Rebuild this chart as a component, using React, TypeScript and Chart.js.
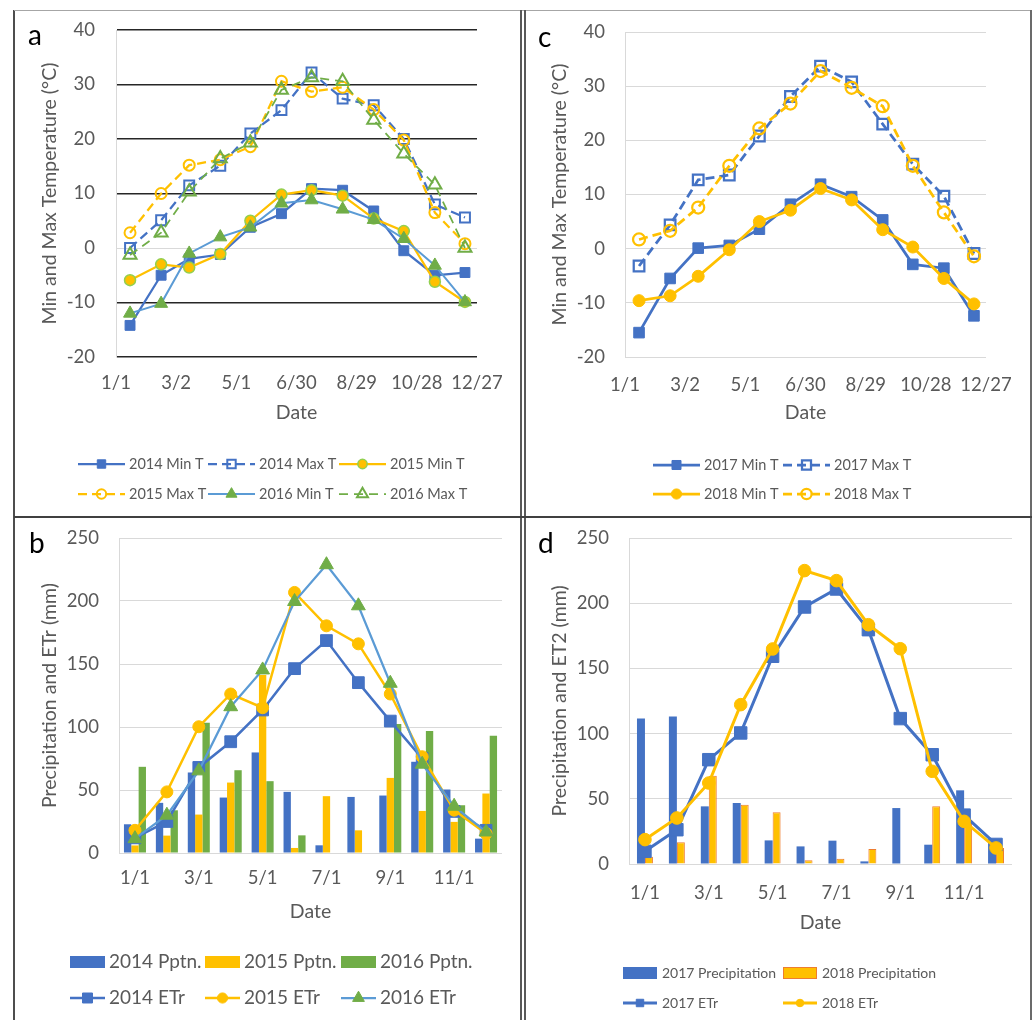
import React, { useEffect, useRef } from 'react';
import { Chart, registerables } from 'chart.js';
Chart.register(...registerables);

const FONT = 'Lato, "Open Sans", sans-serif';
const GRAY = '#595959';
const BLUE = '#4472C4';
const YELLOW = '#FFC000';
const GREEN = '#70AD47';
const LBLUE = '#5B9BD5';
const ORANGE = '#ED7D31';
const LIME = '#92D050';
const GRID = '#d9d9d9';
const CLEAR = 'rgba(255,255,255,0)';

// ---------- Temperature panels (a, c) ----------
const monthDays = [14, 45, 73, 104, 134, 165, 195, 226, 257, 287, 318, 348];
const tempTickDays = [0, 60, 120, 180, 240, 300, 360];
const tempTickLabels = ['1/1', '3/2', '5/1', '6/30', '8/29', '10/28', '12/27'];

const min2014 = [-14.2, -5.0, -2.0, -1.2, 3.8, 6.3, 10.9, 10.6, 6.8, -0.5, -5.0, -4.5];
const max2014 = [0.0, 5.1, 11.5, 15.1, 21.0, 25.3, 32.2, 27.4, 26.2, 20.0, 8.0, 5.6];
const min2015 = [-5.9, -3.0, -3.6, -1.1, 5.0, 9.8, 10.6, 9.6, 5.4, 3.1, -6.2, -9.9];
const max2015 = [2.8, 10.0, 15.2, 16.2, 18.6, 30.6, 28.7, 29.5, 25.4, 19.8, 6.5, 0.8];
const min2016 = [-12.0, -10.2, -1.0, 2.0, 3.8, 8.2, 8.8, 7.1, 5.2, 1.7, -3.2, -9.9];
const max2016 = [-1.3, 2.8, 10.3, 16.4, 19.3, 29.0, 31.3, 30.6, 23.5, 17.3, 11.6, 0.0];

const min2017 = [-15.5, -5.5, 0.1, 0.6, 3.6, 8.2, 11.9, 9.6, 5.3, -2.9, -3.6, -12.4];
const max2017 = [-3.2, 4.4, 12.7, 13.6, 20.8, 28.1, 33.7, 30.8, 23.0, 15.6, 9.7, -0.9];
const min2018 = [-9.6, -8.7, -5.1, -0.2, 5.0, 7.1, 11.1, 9.0, 3.5, 0.3, -5.5, -10.2];
const max2018 = [1.7, 3.3, 7.6, 15.3, 22.2, 26.8, 32.8, 29.7, 26.3, 15.3, 6.7, -1.4];

// ---------- Precipitation / ET panels (b, d) ----------
const monthLabels = ['1/1', '2/1', '3/1', '4/1', '5/1', '6/1', '7/1', '8/1', '9/1', '10/1', '11/1', '12/1'];

const pptn2014 = [22.8, 39.8, 63.9, 44.0, 79.8, 48.5, 6.1, 44.5, 45.6, 72.4, 50.4, 11.4];
const pptn2015 = [6.0, 13.8, 30.5, 55.9, 141.3, 4.0, 45.1, 18.0, 59.6, 33.4, 24.7, 47.2];
const pptn2016 = [68.4, 33.9, 103.4, 65.7, 57.0, 14.0, 0, 0, 102.3, 96.8, 37.9, 93.1];
const etr2014 = [12.0, 25.0, 67.9, 88.3, 113.5, 146.3, 168.6, 135.2, 104.7, 75.0, 33.0, 18.0];
const etr2015 = [18.0, 48.5, 100.2, 126.2, 115.3, 206.8, 180.3, 166.0, 126.2, 76.4, 34.0, 15.4];
const etr2016 = [11.4, 30.0, 65.2, 116.1, 145.3, 199.6, 228.8, 196.2, 134.7, 70.5, 37.1, 16.7];

const precip2017 = [111.5, 113.2, 44.2, 46.8, 18.1, 13.5, 17.9, 2.0, 42.9, 14.8, 56.5, 19.2];
const precip2018 = [5.5, 16.6, 67.7, 45.5, 39.6, 2.8, 4.1, 11.5, 0, 44.2, 32.7, 12.3];
const et2017 = [9.7, 26.3, 80.0, 100.5, 159.3, 197.1, 210.9, 179.7, 111.5, 83.8, 37.5, 15.0];
const et2018 = [18.7, 35.3, 62.1, 122.2, 164.9, 225.0, 217.3, 183.5, 165.1, 71.1, 32.7, 12.3];

const TICK_FONT = { family: FONT, size: 18.5 };
const TITLE_FONT = { family: FONT, size: 19.5 };

function drawMarker(ctx: CanvasRenderingContext2D, style: string, x: number, y: number, r: number, fill: string, stroke: string, bw: number) {
  ctx.beginPath();
  if (style === 'rect') {
    const s = r * Math.SQRT1_2;
    ctx.rect(x - s, y - s, 2 * s, 2 * s);
  } else if (style === 'triangle') {
    let rad = 0;
    ctx.moveTo(x + Math.sin(rad) * r, y - Math.cos(rad) * r);
    rad += (2 * Math.PI) / 3;
    ctx.lineTo(x + Math.sin(rad) * r, y - Math.cos(rad) * r);
    rad += (2 * Math.PI) / 3;
    ctx.lineTo(x + Math.sin(rad) * r, y - Math.cos(rad) * r);
  } else {
    ctx.arc(x, y, r, 0, Math.PI * 2);
  }
  ctx.closePath();
  ctx.setLineDash([]);
  ctx.fillStyle = fill;
  ctx.fill();
  if (bw) {
    ctx.strokeStyle = stroke;
    ctx.lineWidth = bw;
    ctx.stroke();
  }
}

type Decor = {
  letter: string; lx: number; ly: number;
  cols: number[]; rows: number[]; items: number[][];
  symW: number; gap: number; font: number; boxH: number; mScale: number;
};

function decorPlugin(d: Decor) {
  return {
    id: 'decor',
    afterDraw(chart: any) {
      const ctx: CanvasRenderingContext2D = chart.ctx;
      ctx.save();
      ctx.font = `28px ${FONT}`;
      ctx.fillStyle = '#000';
      ctx.textAlign = 'left';
      ctx.textBaseline = 'alphabetic';
      ctx.fillText(d.letter, d.lx, d.ly);
      ctx.font = `${d.font}px ${FONT}`;
      ctx.textBaseline = 'middle';
      d.items.forEach(([di, col, row]) => {
        const ds: any = chart.data.datasets[di];
        const x0 = d.cols[col];
        const y = d.rows[row];
        if (ds.type === 'bar') {
          ctx.fillStyle = ds.backgroundColor;
          ctx.fillRect(x0, y - d.boxH / 2, d.symW, d.boxH);
          if (ds.borderWidth) {
            ctx.strokeStyle = ds.borderColor;
            ctx.lineWidth = ds.borderWidth;
            ctx.strokeRect(x0 + 0.5, y - d.boxH / 2 + 0.5, d.symW - 1, d.boxH - 1);
          }
        } else {
          ctx.strokeStyle = ds.borderColor;
          ctx.lineWidth = ds.borderWidth;
          ctx.setLineDash(ds.borderDash || []);
          ctx.beginPath();
          ctx.moveTo(x0, y);
          ctx.lineTo(x0 + d.symW, y);
          ctx.stroke();
          drawMarker(ctx, ds.pointStyle, x0 + d.symW / 2, y, ds.pointRadius * d.mScale,
            ds.pointBackgroundColor, ds.pointBorderColor, ds.pointBorderWidth);
        }
        ctx.fillStyle = GRAY;
        ctx.fillText(ds.label, x0 + d.symW + d.gap, y);
      });
      ctx.restore();
    },
  };
}

function zip(xs: number[], ys: number[]) {
  return xs.map((x, i) => ({ x, y: ys[i] }));
}

function lineDs(label: string, data: any[], color: string, marker: string, markerFill: string, markerStroke: string, opts: any) {
  return {
    type: 'line',
    label,
    data,
    borderColor: color,
    backgroundColor: color,
    borderWidth: opts.width,
    borderDash: opts.dash || [],
    pointStyle: marker,
    pointRadius: opts.r,
    pointBackgroundColor: markerFill,
    pointBorderColor: markerStroke,
    pointBorderWidth: opts.bw,
    pointHoverRadius: opts.r,
    tension: 0,
    fill: false,
    order: opts.order,
  };
}

function yScale(min: number, max: number, step: number, width: number, tickPad: number, title: string, titlePad: number, gridColor: any, gridWidth: any) {
  return {
    type: 'linear',
    min, max,
    ticks: { stepSize: step, font: TICK_FONT, color: GRAY, padding: tickPad },
    grid: { color: gridColor, lineWidth: gridWidth, drawTicks: false },
    border: { display: true, color: GRID, width: 1 },
    title: { display: true, text: title, font: TITLE_FONT, color: GRAY, padding: { top: titlePad, bottom: 0 } },
    afterFit: (s: any) => { s.width = width; s.paddingTop = 0; s.paddingBottom = 0; },
  };
}

function tempConfig(datasets: any[], pad: any, xTickPad: number, yTickPad: number, darkGrid: boolean, decor: Decor) {
  return {
    type: 'line',
    data: { datasets },
    options: {
      animation: false,
      responsive: false,
      events: [],
      layout: { padding: pad.layout },
      plugins: { legend: { display: false }, tooltip: { enabled: false } },
      scales: {
        x: {
          type: 'linear', min: 0, max: 360,
          afterBuildTicks: (s: any) => { s.ticks = tempTickDays.map((v) => ({ value: v })); },
          ticks: {
            callback: (v: any) => tempTickLabels[tempTickDays.indexOf(v)],
            font: TICK_FONT, color: GRAY, padding: xTickPad, maxRotation: 0, autoSkip: false,
          },
          grid: { display: false, drawTicks: false },
          border: { display: false },
          title: { display: true, text: 'Date', font: TITLE_FONT, color: GRAY, padding: { top: 0, bottom: pad.dateBottom } },
          afterFit: (s: any) => { s.height = pad.xHeight; },
        },
        y: yScale(-20, 40, 10, pad.yWidth, yTickPad, 'Min and Max Temperature (°C)', 22.3,
          darkGrid ? (c: any) => (c.tick && c.tick.value === 0 ? GRID : '#262626') : GRID,
          darkGrid ? (c: any) => (c.tick && c.tick.value === 0 ? 1 : 1.6) : 1),
      },
    },
    plugins: [decorPlugin(decor)],
  };
}

function barConfig(datasets: any[], pad: any, xTickPad: number, yTitle: string, catPct: number, decor: Decor) {
  return {
    type: 'bar',
    data: { labels: monthLabels, datasets },
    options: {
      animation: false,
      responsive: false,
      events: [],
      layout: { padding: pad.layout },
      datasets: { bar: { categoryPercentage: catPct, barPercentage: 1 } },
      plugins: { legend: { display: false }, tooltip: { enabled: false } },
      scales: {
        x: {
          type: 'category',
          offset: true,
          ticks: {
            callback: (_v: any, i: number) => (i % 2 === 0 ? monthLabels[i] : ''),
            font: TICK_FONT, color: GRAY, padding: xTickPad, maxRotation: 0, autoSkip: false,
          },
          grid: { display: false, drawTicks: false },
          border: { display: false },
          title: { display: true, text: 'Date', font: TITLE_FONT, color: GRAY, padding: { top: 0, bottom: pad.dateBottom } },
          afterFit: (s: any) => { s.height = pad.xHeight; },
        },
        y: yScale(0, 250, 50, pad.yWidth, 20, yTitle, 22.3, GRID, 1),
      },
    },
    plugins: [decorPlugin(decor)],
  };
}

function buildA() {
  const o = { width: 2.25 };
  const ds = [
    lineDs('2014 Min T', zip(monthDays, min2014), BLUE, 'rect', BLUE, BLUE, { ...o, r: 7, bw: 1, order: 6 }),
    lineDs('2014 Max T', zip(monthDays, max2014), BLUE, 'rect', CLEAR, BLUE, { ...o, r: 7, bw: 2, dash: [9, 5], order: 5 }),
    lineDs('2015 Min T', zip(monthDays, min2015), YELLOW, 'circle', YELLOW, LIME, { ...o, r: 5.5, bw: 1.5, order: 4 }),
    lineDs('2015 Max T', zip(monthDays, max2015), YELLOW, 'circle', CLEAR, YELLOW, { ...o, r: 5.5, bw: 2, dash: [9, 5], order: 3 }),
    lineDs('2016 Min T', zip(monthDays, min2016), LBLUE, 'triangle', GREEN, GREEN, { ...o, width: 2, r: 7.5, bw: 1, order: 2 }),
    lineDs('2016 Max T', zip(monthDays, max2016), GREEN, 'triangle', CLEAR, GREEN, { ...o, width: 1.75, r: 7.5, bw: 2, dash: [9, 6], order: 1 }),
  ];
  return tempConfig(ds,
    { layout: { left: 0, right: 42, top: 18, bottom: 88 }, yWidth: 100, xHeight: 70, dateBottom: 2.3 },
    14.9, 21, true,
    { letter: 'a', lx: 12, ly: 33, cols: [62, 192, 323], rows: [452, 482],
      items: [[0, 0, 0], [1, 1, 0], [2, 2, 0], [3, 0, 1], [4, 1, 1], [5, 2, 1]],
      symW: 47, gap: 4, font: 14.5, boxH: 12, mScale: 0.85 });
}

function buildC() {
  const o = { width: 2.75 };
  const ds = [
    lineDs('2017 Min T', zip(monthDays, min2017), BLUE, 'rect', BLUE, BLUE, { ...o, r: 7.5, bw: 1, order: 4 }),
    lineDs('2017 Max T', zip(monthDays, max2017), BLUE, 'rect', CLEAR, BLUE, { ...o, r: 7.5, bw: 2.25, dash: [9, 5], order: 3 }),
    lineDs('2018 Min T', zip(monthDays, min2018), YELLOW, 'circle', YELLOW, YELLOW, { ...o, r: 6, bw: 1, order: 2 }),
    lineDs('2018 Max T', zip(monthDays, max2018), YELLOW, 'circle', CLEAR, YELLOW, { ...o, r: 6, bw: 2.25, dash: [9, 5], order: 1 }),
  ];
  return tempConfig(ds,
    { layout: { left: 0, right: 43, top: 20, bottom: 88 }, yWidth: 99, xHeight: 70, dateBottom: 2.3 },
    16.9, 20, false,
    { letter: 'c', lx: 12, ly: 35, cols: [127, 257], rows: [453, 482],
      items: [[0, 0, 0], [1, 1, 0], [2, 0, 1], [3, 1, 1]],
      symW: 47, gap: 4, font: 14.5, boxH: 12, mScale: 0.85 });
}

function barDs(label: string, data: number[], color: string, border: string | null) {
  return {
    type: 'bar', label, data,
    backgroundColor: color,
    borderColor: border || color,
    borderWidth: border ? 1 : 0,
    order: 10,
  };
}

function buildB() {
  const ds = [
    barDs('2014 Pptn.', pptn2014, BLUE, null),
    barDs('2015 Pptn.', pptn2015, YELLOW, null),
    barDs('2016 Pptn.', pptn2016, GREEN, null),
    lineDs('2014 ETr', etr2014, BLUE, 'rect', BLUE, BLUE, { width: 2.5, r: 8.3, bw: 1, order: 3 }),
    lineDs('2015 ETr', etr2015, YELLOW, 'circle', YELLOW, YELLOW, { width: 2.5, r: 6, bw: 1, order: 2 }),
    lineDs('2016 ETr', etr2016, LBLUE, 'triangle', GREEN, GREEN, { width: 2.25, r: 8, bw: 1, order: 1 }),
  ];
  return barConfig(ds,
    { layout: { left: 0, right: 17, top: 19, bottom: 94 }, yWidth: 103, xHeight: 72, dateBottom: 1.3 },
    13.9, 'Precipitation and ETr (mm)', 0.69,
    { letter: 'b', lx: 13, ly: 34, cols: [54, 189, 325], rows: [443, 479],
      items: [[0, 0, 0], [1, 1, 0], [2, 2, 0], [3, 0, 1], [4, 1, 1], [5, 2, 1]],
      symW: 35, gap: 4, font: 19, boxH: 12, mScale: 0.85 });
}

function buildD() {
  const ds = [
    barDs('2017 Precipitation', precip2017, BLUE, null),
    barDs('2018 Precipitation', precip2018, YELLOW, ORANGE),
    lineDs('2017 ETr', et2017, BLUE, 'rect', BLUE, BLUE, { width: 3, r: 8.8, bw: 1, order: 2 }),
    lineDs('2018 ETr', et2018, YELLOW, 'circle', YELLOW, YELLOW, { width: 3, r: 6.3, bw: 1, order: 1 }),
  ];
  return barConfig(ds,
    { layout: { left: 0, right: 17, top: 19, bottom: 83 }, yWidth: 103, xHeight: 72, dateBottom: 1.3 },
    17.9, 'Precipitation and ET2 (mm)', 0.5,
    { letter: 'd', lx: 12, ly: 34, cols: [97, 257], rows: [454, 484],
      items: [[0, 0, 0], [1, 1, 0], [2, 0, 1], [3, 1, 1]],
      symW: 34, gap: 5, font: 14, boxH: 12, mScale: 0.6 });
}

function ChartBox({ left, top, width, height, build }: { left: number; top: number; width: number; height: number; build: () => any }) {
  const ref = useRef<HTMLCanvasElement>(null);
  useEffect(() => {
    const chart = new Chart(ref.current as HTMLCanvasElement, build());
    return () => chart.destroy();
  }, []);
  return (
    <div style={{ position: 'absolute', left, top, width, height }}>
      <canvas ref={ref} width={width} height={height} style={{ width, height, display: 'block' }} />
    </div>
  );
}

function Line({ l, t, w, h, c }: { l: number; t: number; w: number; h: number; c: string }) {
  return <div style={{ position: 'absolute', left: l, top: t, width: w, height: h, background: c }} />;
}

export default function App() {
  return (
    <div style={{ position: 'absolute', left: 0, top: 0, width: 1035, height: 1020, background: '#fff', overflow: 'hidden' }}>
      <ChartBox left={16} top={12} width={503} height={503} build={buildA} />
      <ChartBox left={526} top={12} width={503} height={503} build={buildC} />
      <ChartBox left={16} top={519} width={503} height={500} build={buildB} />
      <ChartBox left={526} top={519} width={503} height={500} build={buildD} />
      <Line l={13} t={10} w={2} h={1010} c="#4d4d4d" />
      <Line l={14} t={10} w={1018} h={1} c="#a6a6a6" />
      <Line l={520} t={10} w={2} h={1010} c="#595959" />
      <Line l={524} t={10} w={2} h={1010} c="#595959" />
      <Line l={1030} t={10} w={2} h={1010} c="#6b6b6b" />
      <Line l={14} t={516} w={1018} h={2} c="#404040" />
    </div>
  );
}
